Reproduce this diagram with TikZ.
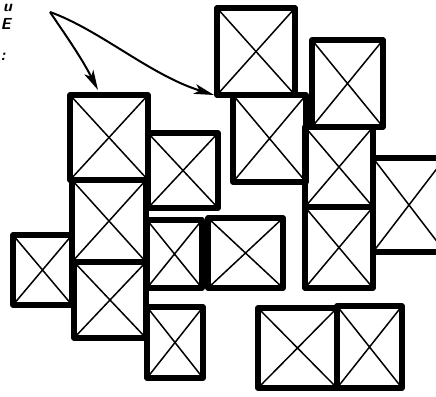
\documentclass[tikz,border=0pt]{standalone}
\usetikzlibrary{fit,calc,arrows.meta}
\tikzset{
  xbox/.style={draw=black, line width=5.5pt, line join=round, inner sep=0pt, outer sep=0pt,
    path picture={\draw[line width=1.5pt] (path picture bounding box.north west) -- (path picture bounding box.south east)
      (path picture bounding box.north east) -- (path picture bounding box.south west);}},
  pointer/.style={line width=2pt, -{Stealth[length=20pt,width=10pt,inset=5pt]}},
  scrap/.style={font=\sffamily\bfseries\itshape\fontsize{16}{16}\selectfont, inner sep=0pt}
}
\begin{document}
\begin{tikzpicture}[x=1pt,y=-1pt]
\useasboundingbox (0,0) rectangle (436,396);
\clip (0,0) rectangle (436,396);
\fill[white] (0,0) rectangle (436,396);
% boxes
\node[xbox, fit={(70,95) (148,180)}] (A) {};
\node[xbox, fit={(72,180) (146,262)}] (B) {};
\node[xbox, fit={(74,262) (146,338)}] (C) {};
\node[xbox, fit={(148,133) (218,208)}] (D) {};
\node[xbox, fit={(13,235) (72,305)}] (E) {};
\node[xbox, fit={(147,220) (202,288)}] (F) {};
\node[xbox, fit={(147,307) (203,378)}] (G) {};
\node[xbox, fit={(208,218) (283,288)}] (H) {};
\node[xbox, fit={(217,8) (295,95)}] (I) {};
\node[xbox, fit={(233,95) (306,182)}] (J) {};
\node[xbox, fit={(312,40) (383,127)}] (K) {};
\node[xbox, fit={(305,127) (373,207)}] (L) {};
\node[xbox, fit={(305,207) (373,288)}] (M) {};
\node[xbox, fit={(373,158) (445,252)}] (N) {};
\node[xbox, fit={(258,308) (337,388)}] (O) {};
\node[xbox, fit={(337,306) (402,388)}] (P) {};
% text scraps
\node[scrap, anchor=base west] (t1) at (3,12) {u};
\node[scrap, anchor=base west] (t2) at (0.5,30) {E};
\node[scrap, anchor=base west] (t3) at (0.5,60) {:};
% arrows
\coordinate (src) at (50,12);
\draw[pointer] (src) .. controls (62,30) and (80,55) .. ($(A.north west)+(28,-5)$);
\draw[pointer] (src) .. controls (100,30) and (150,75) .. ($(I.south west)+(-3,0)$);
\end{tikzpicture}
\end{document}
